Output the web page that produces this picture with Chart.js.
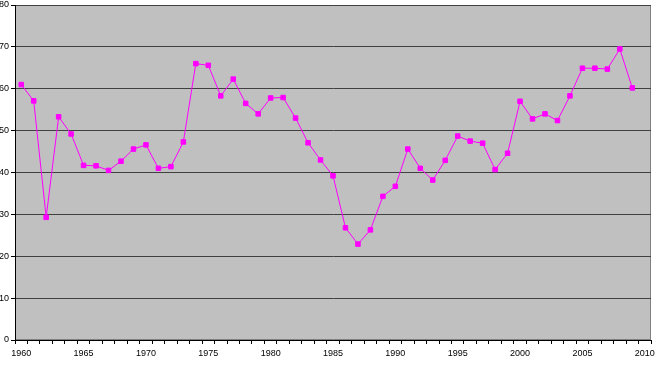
<!DOCTYPE html>
<html>
<head>
<meta charset="utf-8">
<script src="https://cdn.jsdelivr.net/npm/chart.js@4/dist/chart.umd.min.js"></script>
<style>
  html, body { margin: 0; padding: 0; background: #fff; }
  #wrap { width: 656px; height: 380px; }
</style>
</head>
<body>
<div id="wrap"><canvas id="chart"></canvas></div>
<script>
// categories: one per year, 2010 has no value
const years = [];
for (let y = 1960; y <= 2010; y++) years.push(String(y));

const values = [
  61.0, 57.1, 29.3, 53.3, 49.2, 41.7, 41.6, 40.5, 42.7, 45.6,
  46.6, 41.0, 41.4, 47.3, 66.0, 65.6, 58.3, 62.3, 56.5, 54.0,
  57.8, 57.9, 53.0, 47.1, 43.0, 39.2, 26.8, 22.9, 26.3, 34.3,
  36.7, 45.6, 41.0, 38.2, 42.9, 48.7, 47.5, 47.0, 40.7, 44.6,
  57.0, 52.8, 54.0, 52.4, 58.3, 64.9, 64.9, 64.7, 69.5, 60.2,
  null
];

const yTicks = [0, 10, 20, 30, 40, 50, 60, 70, 80];

// grey plot area with a thin frame
const plotBg = {
  id: 'plotBg',
  beforeDraw(chart) {
    const { ctx, chartArea: a } = chart;
    ctx.save();
    ctx.fillStyle = '#c0c0c0';
    ctx.fillRect(a.left, a.top, a.right - a.left, a.bottom - a.top);
    ctx.strokeStyle = '#808080';
    ctx.lineWidth = 1;
    ctx.strokeRect(a.left + 0.5, a.top + 0.5, a.right - a.left - 1, a.bottom - a.top - 1);
    ctx.restore();
  }
};

const font = { family: "'Liberation Sans', Arial, sans-serif", size: 9 };

new Chart(document.getElementById('chart').getContext('2d'), {
  type: 'line',
  data: {
    labels: years,
    datasets: [{
      data: values,
      borderColor: '#ff00ff',
      backgroundColor: '#ff00ff',
      borderWidth: 1,
      pointStyle: 'rect',
      pointRadius: 3.2,
      pointBorderWidth: 1,
      tension: 0,
      spanGaps: false
    }]
  },
  options: {
    responsive: true,
    maintainAspectRatio: false,
    animation: false,
    layout: { padding: { top: 4, right: 2, left: 0, bottom: 0 } },
    plugins: { legend: { display: false }, tooltip: { enabled: false } },
    scales: {
      x: {
        offset: true,
        grid: { offset: true, drawOnChartArea: false, drawTicks: true, tickLength: 4, color: '#000' },
        border: { color: '#000' },
        ticks: {
          autoSkip: false,
          maxRotation: 0,
          padding: 4,
          color: '#000',
          font: font,
          callback: function (v) {
            const lab = this.getLabelForValue(v);
            return Number(lab) % 5 === 0 ? lab : '';
          }
        },
        afterFit(s) { s.height = 40; s.paddingLeft = 0; s.paddingRight = 0; }
      },
      y: {
        min: 0,
        max: 80,
        afterBuildTicks(s) { s.ticks = yTicks.map(v => ({ value: v })); },
        grid: { color: '#404040', lineWidth: 1, tickLength: 4, tickColor: '#000' },
        border: { color: '#000' },
        ticks: { padding: 2, color: '#000', font: font },
        afterFit(s) { s.width = 15; s.paddingTop = 0; s.paddingBottom = 0; }
      }
    }
  },
  plugins: [plotBg]
});
</script>
</body>
</html>
